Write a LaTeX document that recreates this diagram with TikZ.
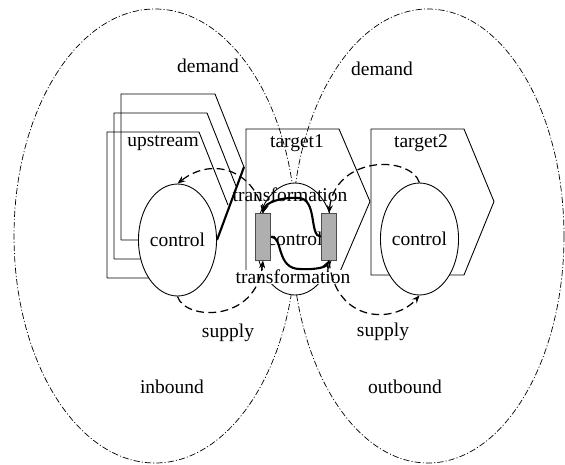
\documentclass[tikz,border=0pt]{standalone}
\usepackage{fontspec}
\setmainfont{Liberation Serif}
\usepackage{tikz}
\usetikzlibrary{shapes.geometric}
\usetikzlibrary{arrows.meta}
\tikzstyle{ctrl} = [ellipse, draw, fill=white, minimum width=1.5cm, minimum height=2.24cm, inner sep=0pt]
\tikzstyle{tfbox} = [rectangle, draw=black!70, fill=rg, minimum width=0.31cm, minimum height=0.93cm, inner sep=0pt]
\tikzstyle{lbl} = [inner sep=0pt]
\tikzstyle{flow} = [line width=1.2pt, -{Stealth[length=5pt,width=4pt]}]
\tikzstyle{loopline} = [line width=0.7pt, dash pattern=on 4.5pt off 2.5pt, -{Stealth[length=4.5pt,width=3.5pt]}]
\tikzstyle{region} = [line width=0.4pt, dash pattern=on 3.5pt off 1.2pt on 0.6pt off 1.2pt]
\definecolor{rg}{HTML}{AFAFAF}

\begin{document}
\begin{tikzpicture}[x=0.02cm, y=-0.02cm, line width=0.5pt, font=\fontsize{11.1pt}{13pt}\selectfont]
			\useasboundingbox (0,0) rectangle (565,464);
			\draw[region] (155,236) ellipse [x radius=141, y radius=227];
			\draw[region] (428,236) ellipse [x radius=136, y radius=227];
			% upstream stack
			\foreach \i in {0,1,2}
				\draw (121-7*\i,240+19*\i) -- (121-7*\i,94+19*\i) -- (215-8*\i,94+19*\i) -- (244-8*\i,167+19*\i)
					(121-7*\i,240+19*\i) -- (178,240+19*\i);
			\coordinate (utip) at (244,167);
			% targets
			\draw (246,129) -- (339,129) -- (370,201.5) -- (339,274) -- (246,274) -- cycle;
			\draw (371,129) -- (464,129) -- (494,201.5) -- (464,275) -- (371,275) -- cycle;
			\node[ctrl] (uctrl) at (177.5,240) {control};
			\node[ctrl] (mctrl) at (295,239) {control};
			\node[ctrl] (dctrl) at (419.5,239) {control};
			\draw[line width=1.2pt] (utip) -- (uctrl.east);
			\node[lbl] (tfup) at (290,195) {transformation};
			\node[lbl, fill=white] (tfdown) at (293,277) {transformation};
			\node[tfbox] (lrect) at (263,236.7) {};
			\node[tfbox] (rrect) at (329,236.7) {};
			\draw[flow] (rrect.west) .. controls +(-12,0) and +(20,0) .. (298,198) .. controls +(-18,-1) and +(3,-10) .. (lrect.north);
			\draw[flow] (lrect.east) .. controls +(12,0) and +(-24,0) .. (300,269) .. controls +(18,1) and +(-3,6) .. (rrect.south);
			\draw[loopline] (lrect.north) .. controls +(-7,-40) and +(37,-29) .. (uctrl.north);
			\draw[loopline] (uctrl.south) .. controls +(7,24) and +(-7,63) .. (lrect.south);
			\draw[loopline] (rrect.south) .. controls +(6,63) and +(-25,29) .. (dctrl.south);
			\draw[loopline] (dctrl.north) .. controls +(-10,-28) and +(6,-57) .. (rrect.north);
			\node[lbl] (dem1) at (208,66) {demand};
			\node[lbl] (dem2) at (382,69) {demand};
			\node[lbl] (up) at (163,143) {upstream};
			\node[lbl] (tg1) at (297,143) {target1};
			\node[lbl] (tg2) at (421,143) {target2};
			\node[lbl] (sup1) at (228,333) {supply};
			\node[lbl] (sup2) at (383,332) {supply};
			\node[lbl] (inb) at (172,387) {inbound};
			\node[lbl] (outb) at (405,387) {outbound};
		\end{tikzpicture}
\end{document}
